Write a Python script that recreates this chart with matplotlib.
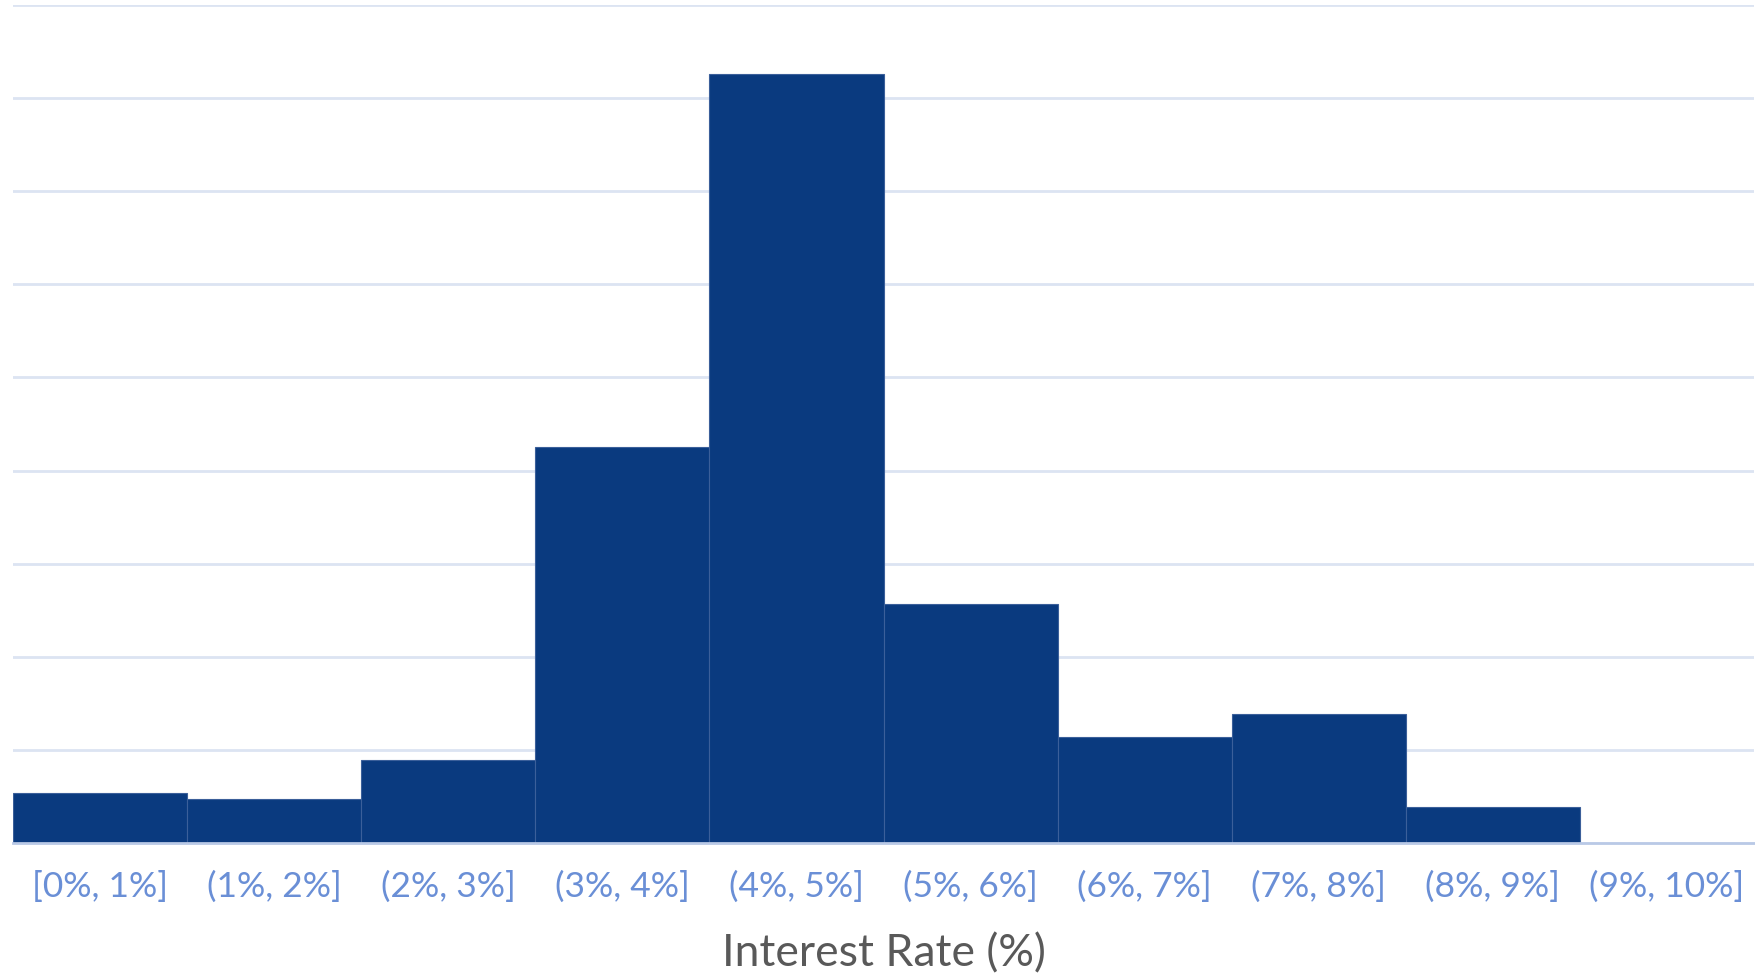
import matplotlib.pyplot as plt

bins = ["[0%, 1%]", "(1%, 2%]", "(2%, 3%]", "(3%, 4%]", "(4%, 5%]",
        "(5%, 6%]", "(6%, 7%]", "(7%, 8%]", "(8%, 9%]", "(9%, 10%]"]
share = [2.67, 2.35, 4.45, 21.25, 41.3, 12.85, 5.7, 6.95, 1.95, 0.0]

plt.rcParams['font.family'] = ['Lato', 'DejaVu Sans']

fig = plt.figure(figsize=(17.56, 9.77), dpi=100)
ax = fig.add_axes([0.0074, 0.1372, 0.9915, 0.8577])

x = list(range(len(bins)))
ax.bar(x, share, width=1.0, align='edge', color='#0a3a7f',
       edgecolor='#3b5f9a', linewidth=0.8, zorder=3)

ax.set_xlim(0, len(bins))
ax.set_ylim(0, 45)
ax.set_yticks(range(5, 50, 5))
ax.yaxis.grid(True, color='#dce4f2', linewidth=2, zorder=0)
ax.tick_params(axis='y', left=False, labelleft=False)

ax.set_xticks([i + 0.5 for i in x])
ax.set_xticklabels(bins, fontsize=25.5, color='#6a8fd6')
ax.tick_params(axis='x', length=0, pad=20)

for side in ['top', 'right', 'left']:
    ax.spines[side].set_visible(False)
ax.spines['bottom'].set_color('#b9c9e6')
ax.spines['bottom'].set_linewidth(2)
ax.spines['bottom'].set_zorder(4)

ax.set_xlabel("Interest Rate (%)", fontsize=32, color='#595959', labelpad=22)

fig.savefig("out.png", dpi=100, facecolor='white')
